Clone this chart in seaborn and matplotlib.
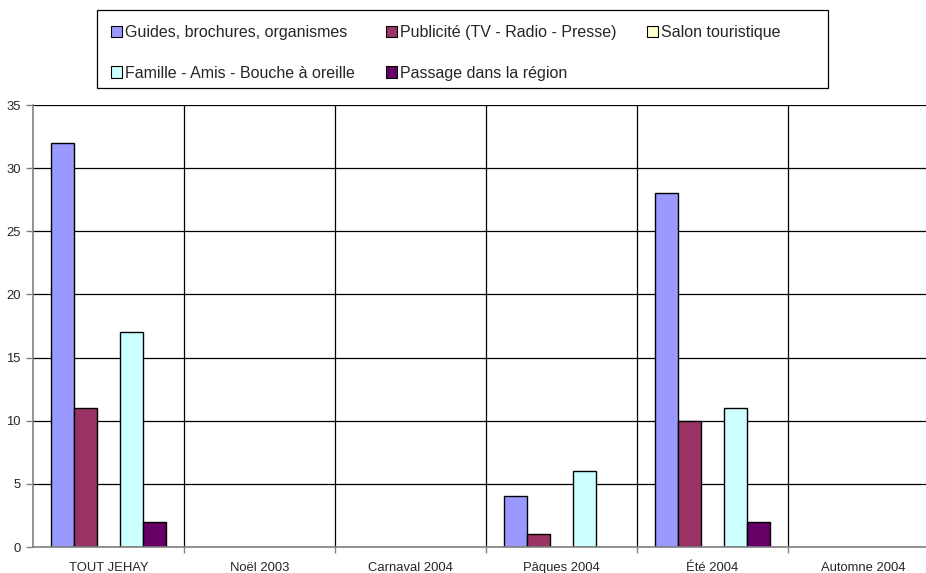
import pandas as pd
import matplotlib.pyplot as plt
import seaborn as sns
from matplotlib.patches import Rectangle, Patch

# Data
periods = ['TOUT JEHAY', 'Noël 2003', 'Carnaval 2004', 'Pâques 2004', 'Été 2004', 'Automne 2004']
sources = ['Guides, brochures, organismes', 'Publicité (TV - Radio - Presse)', 'Salon touristique',
           'Famille - Amis - Bouche à oreille', 'Passage dans la région']
guides = [32, 0, 0, 4, 28, 0]
publicite = [11, 0, 0, 1, 10, 0]
salon = [0, 0, 0, 0, 0, 0]
famille = [17, 0, 0, 6, 11, 0]
passage = [2, 0, 0, 0, 2, 0]
colors = ['#9999FF', '#993366', '#FFFFCC', '#CCFFFF', '#660066']

rows = []
for src, vals in zip(sources, [guides, publicite, salon, famille, passage]):
    for p, v in zip(periods, vals):
        rows.append({'period': p, 'source': src, 'count': v})
df = pd.DataFrame(rows)

sns.set_style('white')
plt.rcParams['font.family'] = ['Liberation Sans', 'DejaVu Sans']

W, H = 926, 573
fig = plt.figure(figsize=(W / 100, H / 100), dpi=100)
ax = fig.add_axes([33 / W, (H - 547) / H, 906 / W, 442 / H])

sns.barplot(data=df, x='period', y='count', hue='source', order=periods, hue_order=sources,
            palette=colors, width=0.76, edgecolor='black', linewidth=1, saturation=1,
            legend=False, ax=ax)

# hide zero-height bars (Excel draws nothing)
for bar in ax.patches:
    if bar.get_height() == 0:
        bar.set_linewidth(0)

ax.set_ylim(0, 35)
ax.set_xlim(-0.5, len(periods) - 0.5)
ax.set_yticks(range(0, 36, 5))
ax.set_xlabel('')
ax.set_ylabel('')

# gridlines: horizontal on y, vertical between categories
ax.set_xticks([i + 0.5 for i in range(len(periods))], minor=True)
ax.grid(axis='y', which='major', color='black', linewidth=0.9)
ax.grid(axis='x', which='minor', color='black', linewidth=0.9)
ax.set_axisbelow(True)

ax.tick_params(axis='x', which='major', length=0, labelsize=9.4, pad=11)
ax.tick_params(axis='x', which='minor', length=4, color='#808080', width=1, direction='out')
ax.tick_params(axis='y', length=5, color='#808080', width=1, direction='out', labelsize=9.4, pad=4)
ax.xaxis.set_ticks_position('bottom')
ax.yaxis.set_ticks_position('left')
for side in ['top', 'right']:
    ax.spines[side].set_visible(False)
for side in ['left', 'bottom']:
    ax.spines[side].set_color('#808080')
    ax.spines[side].set_linewidth(1.2)

# legend box like Excel
fig.patches.append(Rectangle((97 / W, 1 - 88 / H), (828 - 97) / W, (88 - 10) / H,
                             transform=fig.transFigure, facecolor='white',
                             edgecolor='black', linewidth=0.9))
handles = [Patch(facecolor=c, edgecolor='black', linewidth=0.8) for c in colors]
# matplotlib fills legend columns first: reorder so rows read like the original
order = [0, 3, 1, 4, 2]
fig.legend([handles[i] for i in order], [sources[i] for i in order], ncol=3, frameon=False,
           loc='upper left', bbox_to_anchor=(111 / W, 1 - 25 / H), fontsize=11.5,
           handlelength=0.7, handleheight=0.7, handletextpad=0.2,
           columnspacing=1.9, labelspacing=1.6, borderpad=0, borderaxespad=0)

fig.savefig('out.png', dpi=100)
